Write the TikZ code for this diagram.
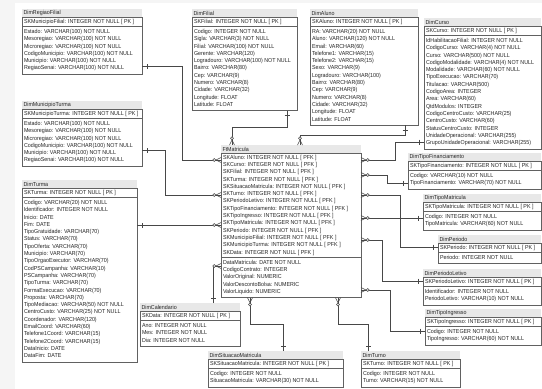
\documentclass[tikz,border=0pt]{standalone}
\usepackage{fontspec}
\setmainfont{Liberation Sans}[FakeStretch=0.92]
\usetikzlibrary{calc}
\newcommand\gap{\hspace{1.5pt}}
\tikzset{
 tbtitle/.style={fill=black!9, minimum height=8pt, inner sep=0pt, outer sep=0pt},
 tbbox/.style={draw=black!62, line width=0.5pt, fill=white, inner sep=0pt, outer sep=0pt},
 tbtext/.style={inner sep=0pt, outer sep=0pt, font=\fontsize{5.8}{7.3}\selectfont, text=black!85},
 rel/.style={draw=black!72, line width=0.55pt},
 onemark/.pic={\draw[rel] (5,-2.5) -- (5,2.5);},
 manymark/.pic={\draw[rel] (0,2.5) -- (5,0) -- (0,-2.5); \draw[rel, fill=white] (6.8,0) circle (1.5pt);}
}
% #1 name, #2 x, #3 y top, #4 width, #5 title, #6 n pk, #7 pk text, #8 n attr, #9 attr text
\newcommand\dbtab[9]{%
  \pgfmathsetmacro\pkh{#6*7.3+2}%
  \pgfmathsetmacro\ath{#8*7.3+4}%
  \node[tbtitle, minimum width=#4pt, anchor=north west] (#1-t) at (#2,-#3) {};
  \node[tbtext, anchor=west] (#1-tt) at ([xshift=1.5pt]#1-t.west) {#5};
  \node[tbbox, minimum width=#4pt, minimum height=\pkh pt, anchor=north west] (#1-k) at (#1-t.south west) {};
  \node[tbtext, anchor=north west] (#1-kt) at ([shift={(2pt,-1pt)}]#1-k.north west) {\begin{tabular}{@{}l@{}}#7\end{tabular}};
  \node[tbbox, minimum width=#4pt, minimum height=\ath pt, anchor=north west] (#1) at (#1-k.south west) {};
  \node[tbtext, anchor=north west] (#1-at) at ([shift={(2pt,-2pt)}]#1.north west) {\begin{tabular}{@{}l@{}}#9\end{tabular}};
}
% #1 dim point, #2 rotation there, #3 route, #4 fact point, #5 rotation there
\newcommand\relation[5]{%
  \draw[rel] #1 #3 #4;
  \pic[rotate=#2] at #1 {onemark};
  \pic[rotate=#5] at #4 {manymark};
}
\begin{document}
\begin{tikzpicture}[x=1pt,y=1pt]
\useasboundingbox (0,0) rectangle (542,-389);
\fill[white] (0,0) rectangle (542,-389);
\fill[black!4] (0,0) rectangle (15,-389);
\fill[black!4] (0,0) rectangle (542,-3);

\dbtab{DimRegiaoFilial}{22}{9}{120}{DimRegiaoFilial}{1}{SKMunicipioFilial: INTEGER\gap NOT NULL\gap [ PK ]}{6}{%
Estado: VARCHAR(100)\gap NOT NULL\\Mesoregiao: VARCHAR(100)\gap NOT NULL\\Microregiao: VARCHAR(100)\gap NOT NULL\\CodigoMunicipio: VARCHAR(100)\gap NOT NULL\\Municipio: VARCHAR(100)\gap NOT NULL\\RegiaoSenai: VARCHAR(100)\gap NOT NULL}

\dbtab{DimFilial}{192}{9}{105}{DimFilial}{1}{SKFilial: INTEGER\gap NOT NULL\gap [ PK ]}{11}{%
Codigo: INTEGER\gap NOT NULL\\Sigla: VARCHAR(3)\gap NOT NULL\\Filial: VARCHAR(100)\gap NOT NULL\\Gerente: VARCHAR(120)\\Logradouro: VARCHAR(100)\gap NOT NULL\\Bairro: VARCHAR(80)\\Cep: VARCHAR(9)\\Numero: VARCHAR(8)\\Cidade: VARCHAR(32)\\Longitude: FLOAT\\Latitude: FLOAT}

\dbtab{DimAluno}{310}{9}{108}{DimAluno}{1}{SKAluno: INTEGER\gap NOT NULL\gap [ PK ]}{13}{%
RA: VARCHAR(20)\gap NOT NULL\\Aluno: VARCHAR(120)\gap NOT NULL\\Email: VARCHAR(60)\\Telefone1: VARCHAR(15)\\Telefone2: VARCHAR(15)\\Sexo: VARCHAR(9)\\Logradouro: VARCHAR(100)\\Bairro: VARCHAR(80)\\Cep: VARCHAR(9)\\Numero: VARCHAR(8)\\Cidade: VARCHAR(32)\\Longitude: FLOAT\\Latitude: FLOAT}

\dbtab{DimCurso}{424}{18}{117}{DimCurso}{1}{SKCurso: INTEGER\gap NOT NULL\gap [ PK ]}{15}{%
IdHabilitacaoFilial: INTEGER\gap NOT NULL\\CodigoCurso: VARCHAR(4)\gap NOT NULL\\Curso: VARCHAR(500)\gap NOT NULL\\CodigoModalidade: VARCHAR(4)\gap NOT NULL\\Modalidade: VARCHAR(60)\gap NOT NULL\\TipoExecucao: VARCHAR(70)\\Titulacao: VARCHAR(500)\\CodigoArea: INTEGER\\Area: VARCHAR(60)\\QtdModulos: INTEGER\\CodigoCentroCusto: VARCHAR(25)\\CentroCusto: VARCHAR(60)\\StatusCentroCusto: INTEGER\\UnidadeOperacional: VARCHAR(255)\\GrupoUnidadeOperacional: VARCHAR(255)}

\dbtab{DimMunicipioTurma}{22}{101}{120}{DimMunicipioTurma}{1}{SKMunicipioTurma: INTEGER\gap NOT NULL\gap [ PK ]}{6}{%
Estado: VARCHAR(100)\gap NOT NULL\\Mesoregiao: VARCHAR(100)\gap NOT NULL\\Microregiao: VARCHAR(100)\gap NOT NULL\\CodigoMunicipio: VARCHAR(100)\gap NOT NULL\\Municipio: VARCHAR(100)\gap NOT NULL\\RegiaoSenai: VARCHAR(100)\gap NOT NULL}

\dbtab{DimTurma}{22}{180}{115}{DimTurma}{1}{SKTurma: INTEGER\gap NOT NULL\gap [ PK ]}{22}{%
Codigo: VARCHAR(20)\gap NOT NULL\\Identificador: INTEGER\gap NOT NULL\\Inicio: DATE\\Fim: DATE\\TipoGratuidade: VARCHAR(70)\\Status: VARCHAR(70)\\TipoOferta: VARCHAR(70)\\Municipio: VARCHAR(70)\\TipoOrgaoExecutor: VARCHAR(70)\\CodPSCampanha: VARCHAR(10)\\PSCampanha: VARCHAR(70)\\TipoTurma: VARCHAR(70)\\FormaExecucao: VARCHAR(70)\\Proposta: VARCHAR(70)\\TipoMediacao: VARCHAR(50)\gap NOT NULL\\CentroCusto: VARCHAR(25)\gap NOT NULL\\Coordenador: VARCHAR(120)\\EmailCoord: VARCHAR(60)\\Telefone1Coord: VARCHAR(15)\\Telefone2Coord: VARCHAR(15)\\DataInicio: DATE\\DataFim: DATE}

\dbtab{FtMatricula}{221}{145}{140}{FtMatricula}{14}{%
SKAluno: INTEGER\gap NOT NULL\gap [ PFK ]\\SKCurso: INTEGER\gap NOT NULL\gap [ PFK ]\\SKFilial: INTEGER\gap NOT NULL\gap [ PFK ]\\SKTurma: INTEGER\gap NOT NULL\gap [ PFK ]\\SKSituacaoMatricula: INTEGER\gap NOT NULL\gap [ PFK ]\\SKTurno: INTEGER\gap NOT NULL\gap [ PFK ]\\SKPeriodoLetivo: INTEGER\gap NOT NULL\gap [ PFK ]\\SKTipoFinanciamento: INTEGER\gap NOT NULL\gap [ PFK ]\\SKTipoIngresso: INTEGER\gap NOT NULL\gap [ PFK ]\\SKTipoMatricula: INTEGER\gap NOT NULL\gap [ PFK ]\\SKPeriodo: INTEGER\gap NOT NULL\gap [ PFK ]\\SKMunicipioFilial: INTEGER\gap NOT NULL\gap [ PFK ]\\SKMunicipioTurma: INTEGER\gap NOT NULL\gap [ PFK ]\\SKData: INTEGER\gap NOT NULL\gap [ PFK ]}{5}{%
DataMatricula: DATE\gap NOT NULL\\CodigoContrato: INTEGER\\ValorOriginal: NUMERIC\\ValorDescontoBolsa: NUMERIC\\ValorLiquido: NUMERIC}

\dbtab{DimCalendario}{140}{303}{100}{DimCalendario}{1}{SKData: INTEGER\gap NOT NULL\gap [ PK ]}{3}{%
Ano: INTEGER\gap NOT NULL\\Mes: INTEGER\gap NOT NULL\\Dia: INTEGER\gap NOT NULL}

\dbtab{DimSituacaoMatricula}{208}{351}{135}{DimSituacaoMatricula}{1}{SKSituacaoMatricula: INTEGER\gap NOT NULL\gap [ PK ]}{2}{%
Codigo: INTEGER\gap NOT NULL\\SituacaoMatricula: VARCHAR(30)\gap NOT NULL}

\dbtab{DimTurno}{361}{351}{99}{DimTurno}{1}{SKTurno: INTEGER\gap NOT NULL\gap [ PK ]}{2}{%
Codigo: INTEGER\gap NOT NULL\\Turno: VARCHAR(15)\gap NOT NULL}

\dbtab{DimTipoFinanciamento}{408}{153}{133}{DimTipoFinanciamento}{1}{SKTipoFinanciamento: INTEGER\gap NOT NULL\gap [ PK ]}{2}{%
Codigo: VARCHAR(10)\gap NOT NULL\\TipoFinanciamento: VARCHAR(70)\gap NOT NULL}

\dbtab{DimTipoMatricula}{423}{194}{118}{DimTipoMatricula}{1}{SKTipoMatricula: INTEGER\gap NOT NULL\gap [ PK ]}{2}{%
Codigo: INTEGER\gap NOT NULL\\TipoMatricula: VARCHAR(60)\gap NOT NULL}

\dbtab{DimPeriodo}{438}{235}{103}{DimPeriodo}{1}{SKPeriodo: INTEGER\gap NOT NULL\gap [ PK ]}{1}{%
Periodo: INTEGER\gap NOT NULL}

\dbtab{DimPeriodoLetivo}{423}{269}{118}{DimPeriodoLetivo}{1}{SKPeriodoLetivo: INTEGER\gap NOT NULL\gap [ PK ]}{2}{%
Identificador: INTEGER\gap NOT NULL\\PeriodoLetivo: VARCHAR(10)\gap NOT NULL}

\dbtab{DimTipoIngresso}{425}{309}{116}{DimTipoIngresso}{1}{SKTipoIngresso: INTEGER\gap NOT NULL\gap [ PK ]}{2}{%
Codigo: INTEGER\gap NOT NULL\\TipoIngresso: VARCHAR(60)\gap NOT NULL}

% left side
\relation{(DimRegiaoFilial.east |- 0,-66)}{0}{-| (182,-160) --}{(FtMatricula-k.west |- 0,-160)}{180}
\relation{(DimMunicipioTurma.east |- 0,-150)}{0}{-| (165,-195) --}{(FtMatricula-k.west |- 0,-195)}{180}
\relation{(DimTurma.east |- 0,-225)}{0}{--}{(FtMatricula-k.west |- 0,-225)}{180}
\relation{(DimCalendario-t.north -| 213,0)}{90}{|-}{(FtMatricula.west |- 0,-266)}{180}
% top
\relation{(DimFilial.south -| 287,0)}{-90}{-- (287,-127) -|}{(FtMatricula-t.north -| 232,0)}{90}
\relation{(DimAluno.south -| 405,0)}{-90}{-- (405,-135) -|}{(FtMatricula-t.north -| 300,0)}{90}
% right side
\relation{(DimCurso.west |- 0,-142)}{180}{-| (395,-160) --}{(FtMatricula-k.east |- 0,-160)}{0}
\relation{(DimTipoFinanciamento.west |- 0,-183)}{180}{-| (387,-175) --}{(FtMatricula-k.east |- 0,-175)}{0}
\relation{(DimPeriodo-k.west |- 0,-247)}{180}{-| (400,-195) --}{(FtMatricula-k.east |- 0,-195)}{0}
\relation{(DimTipoMatricula.west |- 0,-218)}{180}{--}{(FtMatricula-k.east |- 0,-218)}{0}
\relation{(DimPeriodoLetivo-k.west |- 0,-281)}{180}{-| (382,-240) --}{(FtMatricula-k.east |- 0,-240)}{0}
\relation{(DimTipoIngresso.west |- 0,-331)}{180}{-| (390,-290) --}{(FtMatricula.east |- 0,-290)}{0}
% bottom
\relation{(DimSituacaoMatricula-t.north -| 283,0)}{90}{|- (250,-324) --}{(FtMatricula.south -| 250,0)}{-90}
\relation{(DimTurno-t.north -| 368,0)}{90}{|- (338,-324) --}{(FtMatricula.south -| 338,0)}{-90}
\end{tikzpicture}
\end{document}
